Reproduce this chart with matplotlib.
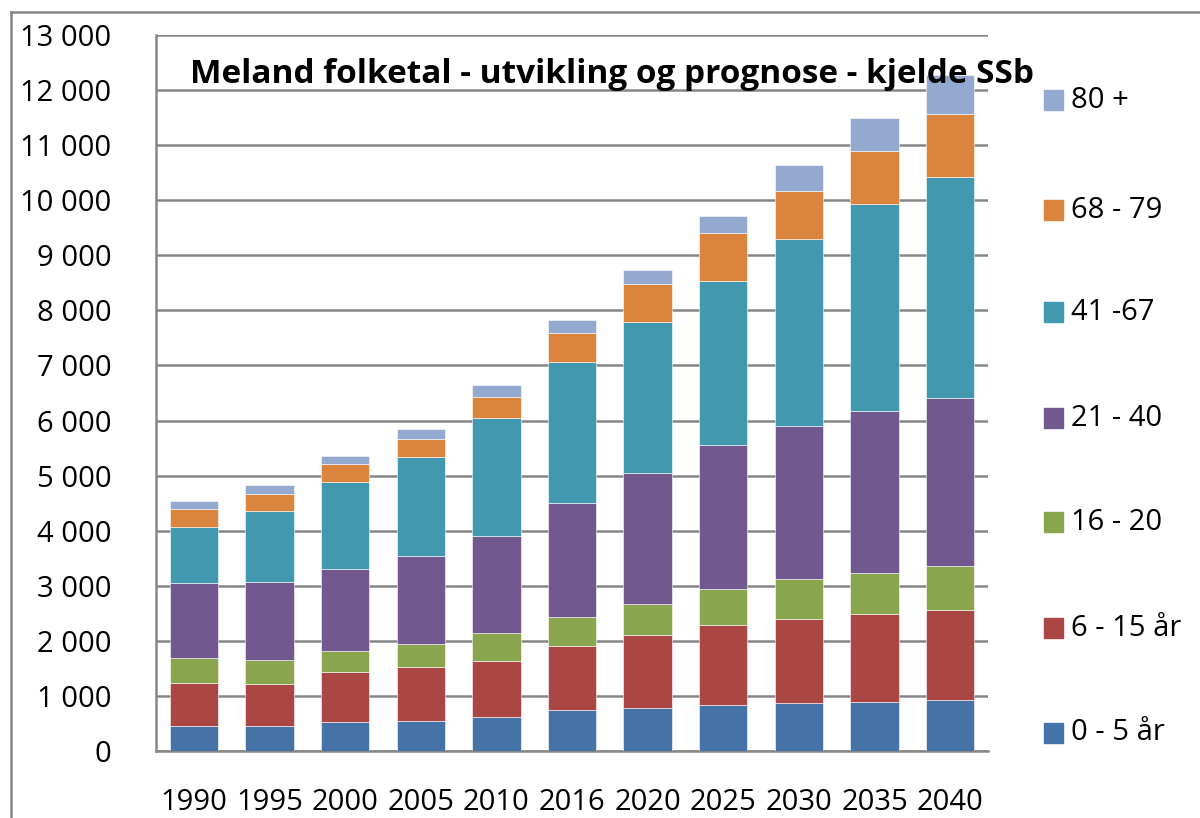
import numpy as np
import matplotlib
matplotlib.use("Agg")
import matplotlib.pyplot as plt
from matplotlib.lines import Line2D
import matplotlib.ticker as ticker

years = ["1990", "1995", "2000", "2005", "2010", "2016", "2020", "2025", "2030", "2035", "2040"]
groups = ["0 - 5 år", "6 - 15 år", "16 - 20", "21 - 40", "41 -67", "68 - 79", "80 +"]

# cumulative tops
top_0_5   = [454, 454, 527, 545, 617, 744, 781, 835, 871, 890, 926]
top_6_15  = [1235, 1216, 1434, 1525, 1634, 1906, 2106, 2288, 2397, 2487, 2560]
top_16_20 = [1688, 1652, 1815, 1943, 2142, 2433, 2669, 2941, 3123, 3232, 3359]
top_21_40 = [3050, 3068, 3304, 3540, 3903, 4503, 5047, 5556, 5900, 6173, 6409]
top_41_67 = [4067, 4357, 4884, 5338, 6046, 7062, 7789, 8533, 9296, 9931, 10421]
top_68_79 = [4394, 4666, 5211, 5665, 6427, 7589, 8479, 9404, 10167, 10893, 11565]
top_80    = [4539, 4829, 5356, 5846, 6645, 7825, 8733, 9713, 10639, 11492, 12273]

colors = ["#4572A7", "#AA4643", "#89A54E", "#71588F", "#4198AF", "#DB843D", "#93A9CF"]

tops = np.array([top_0_5, top_6_15, top_16_20, top_21_40, top_41_67, top_68_79, top_80])
values = np.diff(np.vstack([np.zeros(len(years)), tops]), axis=0)

plt.rcParams['font.family'] = ['Open Sans', 'DejaVu Sans']

fig = plt.figure(figsize=(12, 8.18), dpi=100)
ax = fig.add_axes([156 / 1200, 67 / 818, 832 / 1200, 716 / 818])

x = np.arange(len(years))
bottom = np.zeros(len(years))
for i in range(len(groups)):
    ax.bar(x, values[i], bottom=bottom, width=0.64, color=colors[i],
           edgecolor="white", linewidth=0.4, zorder=3, label=groups[i])
    bottom += values[i]

ax.set_xlim(-0.5, len(years) - 0.5)
ax.set_ylim(0, 13000)
ax.yaxis.set_major_locator(ticker.MultipleLocator(1000))
ax.yaxis.set_major_formatter(ticker.FuncFormatter(lambda v, p: f"{int(v):,}".replace(",", " ")))
ax.set_xticks(x)
ax.set_xticklabels(years)
ax.tick_params(axis="both", length=0, labelsize=21)
ax.tick_params(axis="y", pad=32)
ax.tick_params(axis="x", pad=27)
ax.grid(axis="y", color="#868686", linewidth=1.8, zorder=0)
for s in ["top", "right"]:
    ax.spines[s].set_visible(False)
for s in ["left", "bottom"]:
    ax.spines[s].set_color("#868686")
    ax.spines[s].set_linewidth(1.8)

# legend, drawn by hand to match spacing
ys = [733, 628, 522, 418, 312, 210, 100]
for i in range(len(groups)):
    yy = 1 - ys[i] / 818
    fig.patches.append(plt.Rectangle((1044 / 1200, yy - 10 / 818), 19 / 1200, 20 / 818,
                                     transform=fig.transFigure, color=colors[i]))
    fig.text(1071 / 1200, yy, groups[i], fontsize=21, va="center", ha="left")

fig.text(612 / 1200, 1 - 83 / 818, "Meland folketal - utvikling og prognose - kjelde SSb",
         fontsize=24, fontweight="bold", ha="center", va="baseline", zorder=10)

# outer chart border
fig.lines.append(Line2D([11 / 1200, 11 / 1200], [0, 1 - 12 / 818], transform=fig.transFigure,
                        color="#868686", linewidth=1.8))
fig.lines.append(Line2D([11 / 1200, 1], [1 - 12 / 818, 1 - 12 / 818], transform=fig.transFigure,
                        color="#868686", linewidth=1.8))

fig.savefig("out.png", dpi=100)
